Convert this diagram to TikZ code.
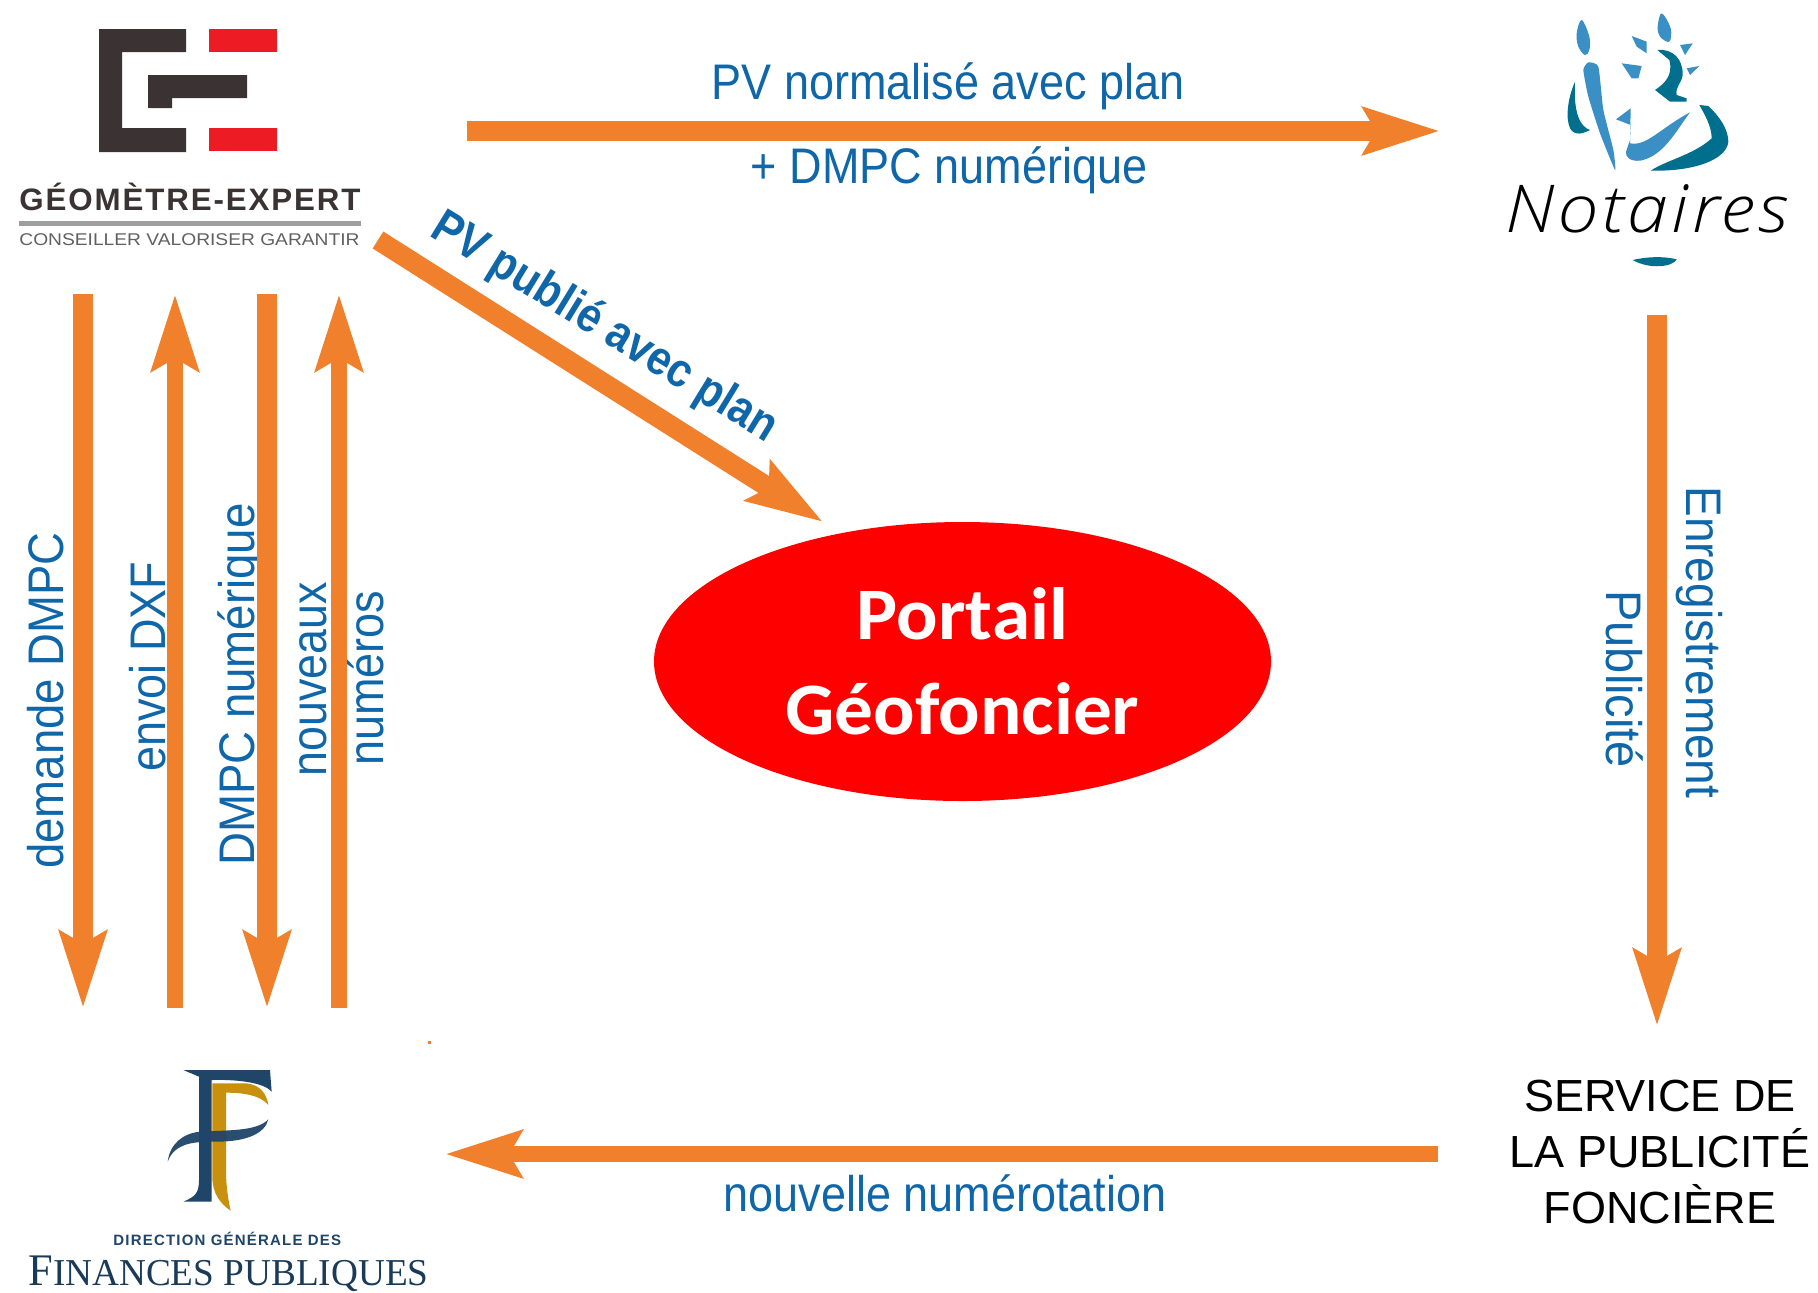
\documentclass[tikz,border=0pt]{standalone}
\usepackage{graphicx}
\usepackage{fontspec}
\setmainfont{Liberation Sans}
\newfontfamily\carlito{Carlito}
\newfontfamily\opensans{Open Sans Light}
\newfontfamily\serifb{Liberation Serif}
\usetikzlibrary{arrows.meta,shapes.geometric}
\definecolor{flow}{HTML}{F1802D}
\definecolor{lab}{HTML}{0F67A9}
\definecolor{gedark}{HTML}{3A3233}
\definecolor{gered}{HTML}{ED1C24}
\definecolor{notblue}{HTML}{3A8FC4}
\definecolor{notteal}{HTML}{006F8E}
\definecolor{navy}{HTML}{1F4568}
\definecolor{gold}{HTML}{C8900F}
\newcommand{\sqz}[2]{\scalebox{#1}[1]{#2}}
\tikzset{
  flowthick/.style={draw=flow,line width=10pt,-{Stealth[length=38pt,width=23pt,inset=6pt]}},
  flowthin/.style={draw=flow,line width=8pt,-{Stealth[length=38pt,width=23pt,inset=6pt]}},
  flowlabel/.style={inner sep=0pt,text=lab,font=\fontsize{25pt}{30pt}\selectfont},
  boldlabel/.style={inner sep=0pt,text=lab,font=\bfseries\fontsize{24pt}{30pt}\selectfont},
  logotext/.style={inner sep=0pt,anchor=base west},
}
\begin{document}
\begin{tikzpicture}[x=.5pt,y=-.5pt]
\useasboundingbox (0,0) rectangle (1818,1292);
\fill[white] (0,0) rectangle (1818,1292);

% ---------- Geometre-Expert logo
\fill[gedark] (99,29) -- (186,29) -- (186,52) -- (122,52) -- (122,128) -- (186,128) -- (186,152) -- (99,152) -- cycle;
\fill[gedark] (148,75) -- (247,75) -- (247,98) -- (172,98) -- (172,108) -- (148,108) -- cycle;
\fill[gered] (209,29) rectangle (277,52);
\fill[gered] (209,128) rectangle (277,151);
\node[logotext,text=gedark,font=\bfseries\fontsize{15.5pt}{18pt}\selectfont] (getitle) at (19,210) {\sqz{1.01}{\addfontfeature{LetterSpace=6}GÉOMÈTRE-EXPERT}};
\fill[black!38] (19,220.5) rectangle (361,225.5);
\node[logotext,text=black!62,font=\fontsize{8.5pt}{10pt}\selectfont] (gesub) at (19,245) {\sqz{1.13}{CONSEILLER VALORISER GARANTIR}};

% ---------- Notaires logo (zoom coordinates)
\begin{scope}[shift={(1460,0)},xscale=1/3,yscale=1/3]
\fill[notblue] plot[smooth cycle,tension=.6] coordinates {(365,60)(350,100)(355,140)(375,165)(388,150)(388,110)};
\fill[notblue] plot[smooth cycle,tension=.3] coordinates {(385,187)(370,210)(385,290)(420,400)(465,510)(460,450)(430,330)(415,200)};
\fill[notblue] plot[smooth cycle,tension=.6] coordinates {(605,40)(593,80)(600,110)(628,125)(632,85)};
\fill[notblue] (515,108) -- (560,125) -- (560,160) -- (530,140) -- cycle;
\fill[notblue] (660,135) -- (698,130) -- (675,165) -- cycle;
\fill[notblue] (485,190) -- (545,198) -- (535,235) -- (515,235) -- cycle;
\fill[notblue] (680,205) -- (718,198) -- (690,225) -- cycle;
\fill[notblue] (468,358) -- (512,325) -- (510,430) .. controls (560,440) and (600,385) .. (690,337) .. controls (650,390) and (610,470) .. (540,482) .. controls (510,485) and (495,470) .. (498,455) -- (510,420) -- (512,375) -- cycle;
\fill[notteal] (592,150) .. controls (640,145) and (670,180) .. (668,225) .. controls (665,250) and (645,260) .. (650,285) -- (680,295) -- (680,305) -- (630,305) -- (585,270) .. controls (615,250) and (640,225) .. (628,180) -- cycle;
\fill[notteal] (345,245) .. controls (325,290) and (315,350) .. (330,385) .. controls (345,410) and (370,400) .. (390,390) .. controls (360,380) and (340,340) .. cycle;
\fill[notteal] (718,315) -- (745,318) .. controls (780,350) and (805,390) .. (805,425) .. controls (800,480) and (700,515) .. (572,512) .. controls (620,480) and (700,465) .. (755,415) .. controls (755,380) and (735,345) .. cycle;
\fill[notteal] (518,780) .. controls (560,770) and (610,768) .. (650,778) .. controls (640,800) and (570,810) .. cycle;
\end{scope}
\node[logotext,text=black,font=\opensans\itshape\fontsize{33pt}{36pt}\selectfont] (nottext) at (1505,232) {\sqz{1.11}{\addfontfeature{LetterSpace=5}Notaires}};

% ---------- DGFiP logo (zoom coordinates)
\begin{scope}[shift={(0,1020)},xscale=1/3,yscale=1/3]
\fill[navy] (550,150) -- (810,150) -- (815,215) .. controls (790,185) and (700,178) .. (635,180) -- (635,545) -- (550,545) .. controls (585,530) and (597,520) .. (597,480) -- (597,170) -- cycle;
\fill[gold] (637,190) -- (740,190) .. controls (780,195) and (800,220) .. (805,255) .. controls (780,225) and (730,218) .. (678,218) -- (678,450) .. controls (678,500) and (685,540) .. (692,572) .. controls (660,550) and (637,520) .. (637,470) -- cycle;
\fill[navy,opacity=.95] (503,425) .. controls (510,370) and (550,340) .. (600,335) .. controls (680,330) and (770,335) .. (805,298) .. controls (795,340) and (740,365) .. (650,365) .. controls (590,365) and (525,365) .. cycle;
\end{scope}
\node[logotext,text=navy,font=\bfseries\fontsize{7.5pt}{9pt}\selectfont] (dgdir) at (113,1245) {\sqz{1.0}{\addfontfeature{LetterSpace=8}DIRECTION GÉNÉRALE DES}};
\node[logotext,text=navy!85!black,font=\serifb\fontsize{19pt}{22pt}\selectfont] (dgfin) at (28,1285) {\sqz{.98}{{\fontsize{22.6pt}{22pt}\selectfont F}INANCES PUBLIQUES}};
\fill[flow] (427.5,1040.5) rectangle (430.5,1043.5);

% ---------- Central ellipse
\node[ellipse,fill=red,inner sep=0pt,minimum width=308.5pt,minimum height=139.5pt,text=white,align=center,font=\carlito\bfseries\fontsize{37pt}{47.5pt}\selectfont] (portail) at (962.5,661.5) {\sqz{1.045}{Portail}\\\sqz{1.045}{Géofoncier}};

% ---------- Black label
\node[inner sep=0pt,align=center,text=black,font=\fontsize{22.5pt}{28pt}\selectfont] (spf) at (1660,1152) {SERVICE DE\\LA PUBLICITÉ\\FONCIÈRE};

% ---------- Labels (the arrows lie over them)
\node[flowlabel,anchor=base] (l1) at (948,99) {\sqz{.9}{PV normalisé avec plan}};
\node[flowlabel,anchor=base] (l2) at (949,183) {\sqz{.9}{+ DMPC numérique}};
\node[flowlabel,anchor=base] (l3) at (945,1211) {\sqz{.9}{nouvelle numérotation}};
\node[boldlabel,anchor=base west,rotate=-31.5] (l4) at (428,235) {\sqz{.88}{PV publié avec plan}};
\node[flowlabel,anchor=base west,rotate=90] (l5) at (63,869) {\sqz{.91}{demande DMPC}};
\node[flowlabel,anchor=base west,rotate=90] (l6) at (165,772) {\sqz{.9}{envoi DXF}};
\node[flowlabel,anchor=base west,rotate=90] (l7) at (254,866) {\sqz{.912}{DMPC numérique}};
\node[flowlabel,anchor=base west,rotate=90] (l8) at (326,777) {\sqz{.895}{nouveaux}};
\node[flowlabel,anchor=base west,rotate=90] (l9) at (383,766) {\sqz{.9}{numéros}};
\node[flowlabel,anchor=base west,rotate=-90] (l10) at (1686,486) {\sqz{.92}{Enregistrement}};
\node[flowlabel,anchor=base west,rotate=-90] (l11) at (1606,590) {\sqz{.94}{Publicité}};

% ---------- Connector ends
\coordinate (geR) at (467,131);
\coordinate (notL) at (1440,131);
\coordinate (geD) at (378,240);
\coordinate (portN) at (823,522);
\coordinate (a1t) at (83,294);
\coordinate (a1b) at (83,1008);
\coordinate (a2b) at (175,1008);
\coordinate (a2t) at (175,294);
\coordinate (a3t) at (267,294);
\coordinate (a3b) at (267,1008);
\coordinate (a4b) at (339,1008);
\coordinate (a4t) at (339,294);
\coordinate (notS) at (1657,315);
\coordinate (spfN) at (1657,1026);
\coordinate (spfW) at (1438,1154);
\coordinate (dgE) at (445,1154);

% ---------- Connectors
\draw[flowthick] (geR) -- (notL);
\draw[flowthick] (geD) -- (portN);
\draw[flowthick] (a1t) -- (a1b);
\draw[flowthin] (a2b) -- (a2t);
\draw[flowthick] (a3t) -- (a3b);
\draw[flowthin] (a4b) -- (a4t);
\draw[flowthick] (notS) -- (spfN);
\draw[flowthin] (spfW) -- (dgE);
\end{tikzpicture}
\end{document}
